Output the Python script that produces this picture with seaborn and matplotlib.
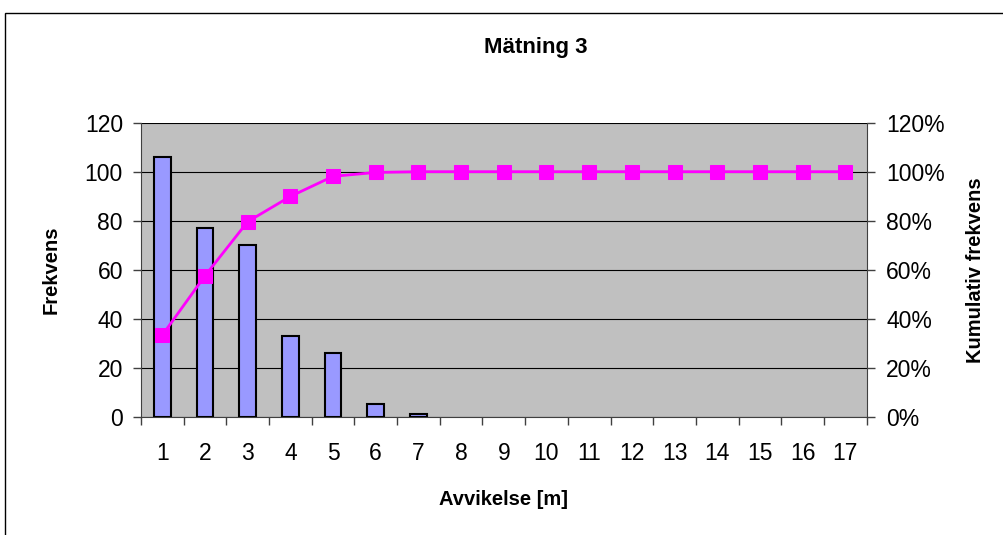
import matplotlib
matplotlib.use("Agg")
import matplotlib.pyplot as plt
import seaborn as sns
import numpy as np
import pandas as pd
from matplotlib.patches import Rectangle
from matplotlib.ticker import FuncFormatter, FixedLocator

categories = [str(i) for i in range(1, 18)]
frekvens = [106, 77, 70, 33, 26, 5, 1, 0, 0, 0, 0, 0, 0, 0, 0, 0, 0]
kumulativ = [0.333, 0.575, 0.796, 0.899, 0.981, 0.997, 1.0, 1.0, 1.0, 1.0,
             1.0, 1.0, 1.0, 1.0, 1.0, 1.0, 1.0]

sns.set_style("white")
plt.rcParams['font.family'] = ['Liberation Sans', 'DejaVu Sans']
plt.rcParams.update({"text.color": "black", "axes.labelcolor": "black",
                     "xtick.color": "black", "ytick.color": "black"})

fig = plt.figure(figsize=(10.04, 5.35), dpi=100)
ax = fig.add_axes([0.1404, 0.2211, 0.7228, 0.5496])

df = pd.DataFrame({"cat": categories, "frekvens": frekvens, "kum": kumulativ})

sns.barplot(data=df, x="cat", y="frekvens", ax=ax, color="#9999FF",
            saturation=1, width=0.39, edgecolor="black", linewidth=1.5, zorder=3)
for p in ax.patches:
    if p.get_height() == 0:
        p.set_visible(False)
ax.set_facecolor("#C0C0C0")
ax.set_ylim(0, 120)
ax.set_xlim(-0.5, 16.5)
ax.set_yticks(np.arange(0, 121, 20))
ax.yaxis.grid(True, color="black", linewidth=0.8, zorder=0)
ax.set_axisbelow(True)
for s in ["top", "right"]:
    ax.spines[s].set_visible(False)
ax.spines["left"].set_color("#404040")
ax.spines["bottom"].set_color("#404040")
ax.tick_params(axis="y", direction="out", length=6, width=1, color="#404040",
               labelcolor="black", labelsize=16.5, left=True, pad=7)
ax.tick_params(axis="x", which="major", length=0, labelsize=16.5,
               labelcolor="black", pad=18)
ax.xaxis.set_minor_locator(FixedLocator(np.arange(-0.5, 17, 1)))
ax.tick_params(axis="x", which="minor", direction="out", length=6, width=1,
               color="#404040", bottom=True)
ax.set_xlabel("Avvikelse [m]", fontsize=14.5, fontweight="bold", color="black")
ax.set_ylabel("Frekvens", fontsize=14.5, fontweight="bold", color="black")
ax.xaxis.set_label_coords(0.5, -0.283)
ax.yaxis.set_label_coords(-0.124, 0.5)
ax.xaxis.label.set_va("center")
ax.yaxis.label.set_va("center")

ax2 = ax.twinx()
sns.lineplot(x=np.arange(len(categories)), y=kumulativ, ax=ax2, color="#FF00FF",
             marker="s", markersize=10, markeredgecolor="#FF00FF",
             linewidth=2, zorder=4)
ax2.set_ylim(0, 1.2)
ax2.set_xlim(-0.5, 16.5)
ax2.set_yticks(np.arange(0, 1.21, 0.2))
ax2.yaxis.set_major_formatter(FuncFormatter(lambda v, p: f"{round(v*100)}%"))
for s in ["top", "left", "bottom"]:
    ax2.spines[s].set_visible(False)
ax2.spines["right"].set_color("#404040")
ax2.tick_params(axis="y", direction="out", length=6, width=1, color="#404040",
                labelcolor="black", labelsize=16.5, right=True, pad=8)
ax2.set_ylabel("Kumulativ frekvens", fontsize=14.5, fontweight="bold", color="black")
ax2.yaxis.set_label_coords(1.1506, 0.5)
ax2.yaxis.label.set_va("center")
ax2.grid(False)

fig.text(0.534, 1 - 48/535, "Mätning 3", ha="center", va="center",
         fontsize=16, fontweight="bold", color="black")

fig.patches.append(Rectangle((5/1004, -0.1), 1.2, 1 - 13/535 + 0.1,
                             transform=fig.transFigure, fill=False,
                             edgecolor="black", linewidth=1))

fig.savefig("out.png", dpi=100)
